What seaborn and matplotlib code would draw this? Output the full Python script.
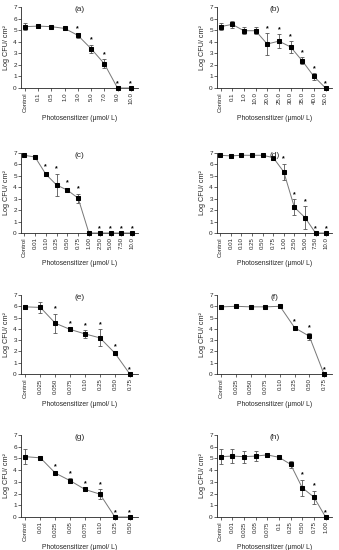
import matplotlib
matplotlib.use("Agg")
import matplotlib.pyplot as plt
import seaborn as sns
import numpy as np
import pandas as pd

sns.set_style("ticks")
plt.rcParams['font.family'] = ['Liberation Sans', 'DejaVu Sans']

# ---- data ----
a_labels = ["Control", "0.1", "0.5", "1.0", "3.0", "5.0", "7.0", "9.0", "10.0"]
a_vals = [5.3, 5.35, 5.3, 5.15, 4.55, 3.4, 2.1, 0, 0]
a_err = [0.3, 0.2, 0.1, 0.15, 0.2, 0.35, 0.4, 0, 0]
a_star = [0, 0, 0, 0, 1, 1, 1, 1, 1]

b_labels = ["Control", "0.1", "1.0", "10.0", "20.0", "25.0", "30.0", "35.0", "40.0", "50.0"]
b_vals = [5.3, 5.5, 4.95, 4.95, 3.8, 4.05, 3.55, 2.35, 1.0, 0]
b_err = [0.3, 0.3, 0.3, 0.3, 0.95, 0.6, 0.5, 0.3, 0.3, 0]
b_star = [0, 0, 0, 0, 1, 1, 1, 1, 1, 1]

c_labels = ["Control", "0.01", "0.10", "0.25", "0.50", "0.75", "1.00", "2.50", "5.00", "7.50", "10.0"]
c_vals = [6.8, 6.65, 5.15, 4.2, 3.75, 3.05, 0, 0, 0, 0, 0]
c_err = [0.05, 0.1, 0.2, 1.0, 0.2, 0.4, 0, 0, 0, 0, 0]
c_star = [0, 0, 1, 1, 1, 1, 0, 1, 1, 1, 1]

d_labels = ["Control", "0.01", "0.10", "0.25", "0.50", "0.75", "1.00", "2.50", "5.00", "7.50", "10.0"]
d_vals = [6.8, 6.75, 6.8, 6.8, 6.8, 6.6, 5.35, 2.25, 1.35, 0, 0]
d_err = [0.1, 0.15, 0.05, 0.05, 0.05, 0.1, 0.7, 0.7, 1.0, 0, 0]
d_star = [0, 0, 0, 0, 0, 0, 1, 1, 1, 1, 1]

e_labels = ["Control", "0.025", "0.050", "0.075", "0.10", "0.25", "0.50", "0.75"]
e_vals = [5.95, 5.9, 4.5, 3.95, 3.55, 3.2, 1.85, 0]
e_err = [0.2, 0.5, 0.85, 0.1, 0.35, 0.75, 0.15, 0]
e_star = [0, 0, 1, 1, 1, 1, 1, 1]

f_labels = ["Control", "0.025", "0.050", "0.075", "0.10", "0.25", "0.50", "0.75"]
f_vals = [5.95, 6.0, 5.95, 5.95, 6.0, 4.1, 3.35, 0]
f_err = [0.15, 0.05, 0.05, 0.05, 0.05, 0.15, 0.3, 0]
f_star = [0, 0, 0, 0, 0, 1, 1, 1]

g_labels = ["Control", "0.01", "0.025", "0.05", "0.075", "0.10", "0.25", "0.50"]
g_vals = [5.15, 5.05, 3.75, 3.1, 2.35, 1.95, 0, 0]
g_err = [0.65, 0.05, 0.1, 0.2, 0.1, 0.4, 0, 0]
g_star = [0, 0, 1, 1, 1, 1, 1, 1]

h_labels = ["Control", "0.01", "0.025", "0.05", "0.075", "0.1", "0.25", "0.50", "0.75", "1.00"]
h_vals = [5.15, 5.2, 5.15, 5.2, 5.3, 5.1, 4.5, 2.5, 1.7, 0]
h_err = [0.65, 0.6, 0.5, 0.45, 0.2, 0.1, 0.3, 0.7, 0.55, 0]
h_star = [0, 0, 0, 0, 0, 0, 0, 1, 1, 1]

panels = [
    ("(a)", a_labels, a_vals, a_err, a_star),
    ("(b)", b_labels, b_vals, b_err, b_star),
    ("(c)", c_labels, c_vals, c_err, c_star),
    ("(d)", d_labels, d_vals, d_err, d_star),
    ("(e)", e_labels, e_vals, e_err, e_star),
    ("(f)", f_labels, f_vals, f_err, f_star),
    ("(g)", g_labels, g_vals, g_err, g_star),
    ("(h)", h_labels, h_vals, h_err, h_star),
]

W, H = 339, 550
fig = plt.figure(figsize=(W / 100, H / 100), dpi=100)
fig.patch.set_facecolor("white")

col_x = [(21, 138), (217, 332)]
row_y = [(7, 88), (153, 233), (295, 374), (435, 517)]

for i, (title, labels, vals, err, star) in enumerate(panels):
    r, c = divmod(i, 2)
    x0, x1 = col_x[c]
    y0, y1 = row_y[r]
    ax = fig.add_axes([x0 / W, 1 - y1 / H, (x1 - x0) / W, (y1 - y0) / H])
    df = pd.DataFrame({"pos": np.arange(len(labels)), "val": vals, "err": err})
    ax.errorbar(df["pos"], df["val"], yerr=df["err"], fmt="none", ecolor="#555555",
                elinewidth=0.6, capsize=1.5, capthick=0.6, zorder=2, clip_on=False)
    sns.lineplot(data=df, x="pos", y="val", ax=ax, color="#777777", linewidth=0.7,
                 marker="s", markersize=3.2, markerfacecolor="black",
                 markeredgecolor="black", zorder=3, clip_on=False)
    for p, v, e, s in zip(df["pos"], vals, err, star):
        if s:
            ax.text(p, v + e + 0.1, "*", ha="center", va="bottom", fontsize=5,
                    color="black", fontweight="bold")
    ax.set_xlim(-0.3, len(labels) - 1 + 0.55)
    ax.set_ylim(0, 7)
    ax.set_yticks(range(0, 8))
    ax.set_xticks(df["pos"])
    ax.set_xticklabels(labels, rotation=90, fontsize=4.4)
    ax.tick_params(axis="y", labelsize=4.6, length=2, width=0.5, pad=1)
    ax.tick_params(axis="x", length=2, width=0.5, pad=1.2)
    ax.set_xlabel("Photosensitizer (μmol/ L)", fontsize=4.9, labelpad=2)
    ax.set_ylabel("Log CFU/ cm²", fontsize=5.2, labelpad=2)
    ax.text(0.5, 0.97, title, transform=ax.transAxes, ha="center", va="center",
            fontsize=6)
    for sp in ["top", "right"]:
        ax.spines[sp].set_visible(False)
    for sp in ["left", "bottom"]:
        ax.spines[sp].set_linewidth(0.6)
    ax.set_facecolor("white")

fig.savefig("out.png", dpi=100, facecolor="white")
